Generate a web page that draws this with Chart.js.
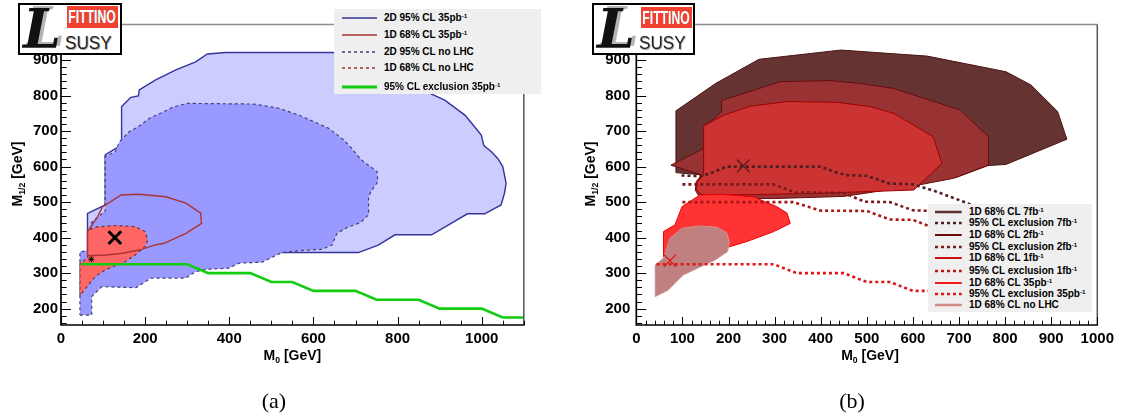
<!DOCTYPE html>
<html><head><meta charset="utf-8">
<script src="https://cdn.jsdelivr.net/npm/chart.js@4.4.1/dist/chart.umd.min.js"></script>
<style>
html,body{margin:0;padding:0;background:#fff;}
body{width:1123px;height:416px;position:relative;overflow:hidden;font-family:'Liberation Sans',Arial,sans-serif;}
canvas{position:absolute;top:0;}
.logo{position:absolute;box-sizing:border-box;border:2px solid #000;background:#fff;overflow:hidden;z-index:5;}
.fit{position:absolute;background:#f3402f;color:#fff;font-weight:bold;font-size:19px;line-height:22px;overflow:hidden;text-shadow:0 0 1px #777;}
.fit span{position:absolute;left:50%;top:0;white-space:nowrap;transform:translateX(-50%) scaleX(0.64);}
.bigL{position:absolute;font-family:'DejaVu Serif',serif;font-style:italic;font-weight:bold;font-size:54px;line-height:54px;color:#111;text-shadow:4px -2px 0 #b4b4b4;}
.susy{position:absolute;font-size:19px;line-height:19px;color:#222;transform:scaleX(0.9);transform-origin:left top;text-shadow:1px 1px 0 #aaa;}
.legend{position:absolute;background:#efefef;z-index:4;}
.row{position:absolute;left:0;right:0;height:14px;line-height:14px;font-weight:bold;white-space:nowrap;color:#000;}
.row svg{position:absolute;top:0;}
.row .t{position:absolute;top:0;}
.sp{font-size:0.62em;position:relative;top:-0.5em;}
.title{position:absolute;font-weight:bold;font-size:14px;line-height:20px;height:20px;width:100px;white-space:nowrap;text-align:center;z-index:3;}
.sb{font-size:0.62em;position:relative;top:0.35em;}
.cap{position:absolute;font-family:'Liberation Serif',serif;font-size:22px;line-height:26px;width:60px;text-align:center;}
</style>
</head><body>
<canvas id="cL" width="560" height="416" style="left:0;width:560px;height:416px"></canvas>
<canvas id="cR" width="563" height="416" style="left:560px;width:563px;height:416px"></canvas>

<div class="logo" style="left:18px;top:3px;width:104px;height:52px">
  <div class="bigL" style="left:3px;top:-3px">L</div>
  <div class="fit" style="left:46.5px;top:1px;width:51.5px;height:22.3px"><span>FITTINO</span></div>
  <div class="susy" style="left:45px;top:27.5px">SUSY</div>
</div>
<div class="logo" style="left:592px;top:3px;width:103px;height:52px">
  <div class="bigL" style="left:3px;top:-3px">L</div>
  <div class="fit" style="left:46.5px;top:1.5px;width:51px;height:21.6px"><span>FITTINO</span></div>
  <div class="susy" style="left:45px;top:27.5px">SUSY</div>
</div>

<div class="title" style="left:-33.2px;top:164px;transform:rotate(-90deg)">M<span class="sb">1/2</span> [GeV]</div>
<div class="title" style="left:540px;top:164px;transform:rotate(-90deg)">M<span class="sb">1/2</span> [GeV]</div>
<div class="title" style="left:242.4px;top:344.5px">M<span class="sb">0</span> [GeV]</div>
<div class="title" style="left:820px;top:344.5px">M<span class="sb">0</span> [GeV]</div>
<div class="cap" style="left:244px;top:388px">(a)</div>
<div class="cap" style="left:822px;top:388px">(b)</div>

<div id="legL" class="legend" style="left:334px;top:9px;width:207px;height:85px;font-size:10px"></div>
<div id="legR" class="legend" style="left:928px;top:204px;width:164px;height:108px;font-size:10px"></div>

<script>
// ---------- axis tick labels ----------
const xTickLabelsL = [0, 200, 400, 600, 800, 1000];
const xTickLabelsR = [0, 100, 200, 300, 400, 500, 600, 700, 800, 900, 1000];
const yTickLabels = [200, 300, 400, 500, 600, 700, 800, 900];

// ---------- panel (a): [M0, M1/2] in GeV ----------
const outer2D35pb = [[63,276],[63,468],[105,492],[105,633],[144,661],[144,769],[166,795],[184,799],[186,816],[225,844],[273,872],[320,895],[348,917],[391,921],[644,921],[700,915],[790,880],[881,804],[912,787],[960,745],[983,712],[999,689],[1005,659],[1023,642],[1038,623],[1050,600],[1058,553],[1054,525],[1046,492],[1007,467],[966,467],[881,408],[794,408],[754,379],[707,358],[431,358],[387,330],[184,330],[148,301],[105,301],[63,276]];
const inner2DnoLHC = [[45,182],[73,182],[73,234],[97,262],[178,259],[214,286],[296,286],[320,304],[348,311],[399,314],[423,328],[478,331],[525,358],[565,363],[620,367],[644,379],[656,412],[679,428],[711,442],[731,464],[731,515],[737,530],[753,558],[751,586],[735,600],[719,614],[707,628],[691,651],[672,675],[636,708],[600,727],[565,745],[518,764],[458,776],[300,778],[265,767],[245,755],[210,736],[186,714],[162,698],[139,670],[129,642],[105,628],[105,475],[70,440],[70,365],[45,360],[45,182]];
const red1DnoLHC = [[45,237],[45,328],[63,342],[63,421],[85,430],[128,434],[176,431],[200,417],[206,393],[200,375],[176,351],[152,332],[105,309],[81,290],[45,237]];
const line1D35pb = [[63,349],[63,417],[87,459],[99,487],[143,520],[186,522],[249,515],[297,497],[332,469],[334,440],[297,412],[245,384],[222,379],[186,365],[146,356],[107,351],[63,349]];
const excl35pbA = [[48,325],[300,325],[350,300],[450,300],[500,275],[550,275],[600,250],[700,250],[750,225],[850,225],[900,200],[1000,200],[1050,175],[1100,175]];
const bestFitA = [[128,400]];
const bestFitNoLHCA = [[72,339]];

// ---------- panel (b) ----------
const cl68_7fb = [[86,583],[86,757],[172,834],[266,902],[444,928],[631,911],[802,867],[856,830],[914,755],[934,677],[802,606],[763,603],[693,569],[615,562],[400,560],[200,570],[86,583]];
const cl68_2fb = [[75,604],[145,650],[150,714],[185,755],[185,786],[312,839],[421,842],[486,834],[558,820],[703,759],[764,684],[764,604],[688,567],[600,545],[450,516],[300,510],[160,510],[135,518],[128,534],[130,558],[142,576],[75,604]];
const cl68_1fb = [[146,714],[190,745],[247,770],[327,783],[435,781],[507,769],[558,750],[644,684],[663,609],[602,534],[400,525],[250,521],[164,520],[141,522],[131,534],[132,556],[146,576],[146,714]];
const cl68_35pb = [[59,417],[84,436],[99,487],[138,520],[182,522],[254,515],[305,487],[327,469],[334,440],[298,417],[240,389],[204,375],[170,360],[120,332],[80,330],[59,345],[59,417]];
const cl68_noLHC = [[41,234],[41,323],[59,342],[73,398],[99,426],[138,433],[175,429],[196,414],[202,389],[198,361],[171,337],[138,317],[102,295],[84,272],[70,253],[41,234]];
const excl7fb = [[98,575],[140,573],[160,581],[196,600],[400,600],[428,586],[455,576],[500,574],[550,552],[600,550],[650,530],[710,501],[770,470]];
const excl2fb = [[100,550],[298,550],[345,527],[450,526],[495,501],[550,500],[600,477],[640,475],[700,450],[760,425]];
const excl1fb = [[100,500],[340,500],[400,476],[500,475],[550,451],[600,450],[650,425],[700,400]];
const excl35pbB = [[44,325],[298,325],[348,300],[450,300],[500,275],[550,275],[600,250],[700,250]];
const bestFit7fb = [[232,602]];
const bestFit35pbB = [[73,335]];

// ---------- legends ----------
const legendA = [
  {t:'2D 95% CL 35pb', s:'-1', c:'#34349a', w:1.5, d:''},
  {t:'1D 68% CL 35pb', s:'-1', c:'#aa3333', w:1.5, d:''},
  {t:'2D 95% CL no LHC', s:'', c:'#404078', w:1.5, d:'3,3'},
  {t:'1D 68% CL no LHC', s:'', c:'#993333', w:1.5, d:'3,3'},
  {t:'95% CL exclusion 35pb', s:'-1', c:'#11cc11', w:3, d:''}
];
const legendB = [
  {t:'1D 68% CL 7fb', s:'-1', c:'#5c3030', w:2.5, d:''},
  {t:'95% CL exclusion 7fb', s:'-1', c:'#4d1f1f', w:2.5, d:'3,3'},
  {t:'1D 68% CL 2fb', s:'-1', c:'#6a0a0a', w:2, d:''},
  {t:'95% CL exclusion 2fb', s:'-1', c:'#7a1a1a', w:2.5, d:'3,3'},
  {t:'1D 68% CL 1fb', s:'-1', c:'#cc1010', w:2, d:''},
  {t:'95% CL exclusion 1fb', s:'-1', c:'#bb1515', w:2.5, d:'3,3'},
  {t:'1D 68% CL 35pb', s:'-1', c:'#ee1a1a', w:2, d:''},
  {t:'95% CL exclusion 35pb', s:'-1', c:'#e01515', w:2.5, d:'3,3'},
  {t:'1D 68% CL no LHC', s:'', c:'#d08888', w:2.5, d:''}
];

function buildLegend(id, items, rowCenters, sx0, sx1, tx) {
  const el = document.getElementById(id);
  const top0 = parseFloat(el.style.top);
  items.forEach((it, i) => {
    const row = document.createElement('div');
    row.className = 'row';
    row.style.top = (rowCenters[i] - top0 - 7) + 'px';
    const w = sx1 - sx0;
    row.innerHTML = '<svg width="' + w + '" height="14" style="left:' + sx0 + 'px"><line x1="0" y1="7" x2="' + w +
      '" y2="7" stroke="' + it.c + '" stroke-width="' + it.w + '"' + (it.d ? ' stroke-dasharray="' + it.d + '"' : '') +
      '/></svg><span class="t" style="left:' + tx + 'px">' + it.t + (it.s ? '<span class="sp">' + it.s + '</span>' : '') + '</span>';
    el.appendChild(row);
  });
}
buildLegend('legL', legendA, [18.3, 35, 51.7, 68.3, 86.7], 7.7, 43.3, 50);
buildLegend('legR', legendB, [211.7, 223.3, 235, 247.3, 258.3, 270.7, 283.3, 294.3, 305], 7, 33.7, 41);

// ---------- chart helpers ----------
Chart.defaults.font.family = "'Liberation Sans', Arial, sans-serif";
const pts = a => a.map(p => ({x: p[0], y: p[1]}));
function area(label, arr, fillColor, lineColor, width, dash, order) {
  return {label, data: pts(arr), fill: fillColor ? 'shape' : false, backgroundColor: fillColor || 'transparent',
    borderColor: lineColor, borderWidth: width, borderDash: dash || [], pointRadius: 0, pointHoverRadius: 0,
    tension: 0, order, borderJoinStyle: 'miter'};
}
function marker(label, arr, color, radius, width, style, order) {
  return {label, data: pts(arr), showLine: false, pointStyle: style, pointRadius: radius, pointHoverRadius: radius,
    pointBorderColor: color, pointBackgroundColor: color, borderColor: color, pointBorderWidth: width, order};
}

const rootFrame = {
  id: 'rootFrame',
  afterDatasetsDraw(chart, args, o) {
    const {ctx, chartArea: a} = chart;
    const xs = chart.scales.x, ys = chart.scales.y;
    ctx.save();
    ctx.lineCap = 'butt';
    ctx.strokeStyle = '#8c8c8c'; ctx.lineWidth = 1.5;
    ctx.beginPath(); ctx.moveTo(a.left, a.top); ctx.lineTo(a.right, a.top); ctx.stroke();
    ctx.strokeStyle = '#555'; ctx.lineWidth = 1.5;
    ctx.beginPath(); ctx.moveTo(a.right, a.top); ctx.lineTo(a.right, a.bottom); ctx.stroke();
    ctx.strokeStyle = '#000'; ctx.lineWidth = 1;
    for (let v = xs.min; v <= xs.max + 1e-6; v += o.xMinorStep) {
      const px = Math.round(xs.getPixelForValue(v)) + 0.5;
      const major = Math.abs(v / o.xMajorStep - Math.round(v / o.xMajorStep)) < 1e-6;
      ctx.beginPath(); ctx.moveTo(px, a.bottom); ctx.lineTo(px, a.bottom - (major ? 8 : 4.3)); ctx.stroke();
    }
    for (let v = o.yFirst; v <= ys.max + 1e-6; v += o.yMinorStep) {
      const py = Math.round(ys.getPixelForValue(v)) + 0.5;
      const major = Math.abs(v / o.yMajorStep - Math.round(v / o.yMajorStep)) < 1e-6;
      ctx.beginPath(); ctx.moveTo(a.left, py); ctx.lineTo(a.left + (major ? 10 : 5.7), py); ctx.stroke();
    }
    ctx.lineWidth = 1.7;
    ctx.beginPath(); ctx.moveTo(a.left, a.top); ctx.lineTo(a.left, a.bottom); ctx.lineTo(a.right + 0.75, a.bottom); ctx.stroke();
    ctx.restore();
  }
};

function scales(xmin, xmax, xLabels, yWidth, yPad) {
  const tickFont = {size: 15, weight: 'bold'};
  return {
    x: {type: 'linear', min: xmin, max: xmax,
        afterFit: s => { s.height = 30; },
        afterBuildTicks: s => { s.ticks = xLabels.map(v => ({value: v})); },
        grid: {display: false, drawTicks: false}, border: {display: false},
        ticks: {font: tickFont, color: '#000', padding: 5, maxRotation: 0, autoSkip: false, callback: v => String(v)}},
    y: {type: 'linear', min: 154, max: 1000,
        afterFit: s => { s.width = yWidth; },
        afterBuildTicks: s => { s.ticks = yTickLabels.map(v => ({value: v})); },
        grid: {display: false, drawTicks: false}, border: {display: false},
        ticks: {font: tickFont, color: '#000', padding: yPad, autoSkip: false, callback: v => String(v)}}
  };
}

new Chart(document.getElementById('cL'), {
  type: 'line',
  data: {datasets: [
    area('2D 95% CL 35pb-1', outer2D35pb, '#ccccff', '#34349a', 1.4, [], 10),
    area('2D 95% CL no LHC', inner2DnoLHC, '#9999ff', '#404078', 1.2, [3, 3], 9),
    area('1D 68% CL no LHC', red1DnoLHC, '#ff6666', '#6a3040', 1.2, [3, 3], 8),
    area('1D 68% CL 35pb-1', line1D35pb, null, '#aa3333', 1.4, [], 7),
    area('95% CL exclusion 35pb-1', excl35pbA, null, '#11cc11', 2.6, [], 6),
    marker('best fit no LHC', bestFitNoLHCA, '#000', 3, 1, 'star', 2),
    marker('best fit 35pb-1', bestFitA, '#000', 9, 3, 'crossRot', 1)
  ]},
  options: {
    responsive: false, animation: false, events: [],
    layout: {padding: {left: 0, top: 24.5, right: 36.2, bottom: 61}},
    scales: scales(0, 1100, xTickLabelsL, 61, 3),
    plugins: {legend: {display: false}, tooltip: {enabled: false},
      rootFrame: {xMajorStep: 200, xMinorStep: 50, yMajorStep: 100, yMinorStep: 20, yFirst: 160}}
  },
  plugins: [rootFrame]
});

new Chart(document.getElementById('cR'), {
  type: 'line',
  data: {datasets: [
    area('1D 68% CL 7fb-1', cl68_7fb, '#663333', '#4a1515', 1, [], 20),
    area('1D 68% CL 2fb-1', cl68_2fb, '#993333', '#6a0a0a', 1, [], 19),
    area('1D 68% CL 1fb-1', cl68_1fb, '#cc3333', '#a00000', 1, [], 18),
    area('1D 68% CL 35pb-1', cl68_35pb, '#ff3333', '#ee0000', 1, [], 17),
    area('1D 68% CL no LHC', cl68_noLHC, '#c08080', '#d09090', 1, [], 16),
    area('95% CL exclusion 7fb-1', excl7fb, null, '#4d1f1f', 2.6, [3, 3], 13),
    area('95% CL exclusion 2fb-1', excl2fb, null, '#7a1a1a', 2.6, [3, 3], 12),
    area('95% CL exclusion 1fb-1', excl1fb, null, '#aa1515', 2.6, [3, 3], 11),
    area('95% CL exclusion 35pb-1', excl35pbB, null, '#e01515', 2.6, [3, 3], 10),
    marker('best fit 7fb-1', bestFit7fb, '#4d1f1f', 9, 1.2, 'crossRot', 2),
    marker('best fit 35pb-1', bestFit35pbB, '#e01515', 8.5, 1.2, 'crossRot', 1)
  ]},
  options: {
    responsive: false, animation: false, events: [],
    layout: {padding: {left: 0, top: 24.5, right: 25.7, bottom: 61}},
    scales: scales(0, 1000, xTickLabelsR, 76.3, 6),
    plugins: {legend: {display: false}, tooltip: {enabled: false},
      rootFrame: {xMajorStep: 100, xMinorStep: 20, yMajorStep: 100, yMinorStep: 20, yFirst: 160}}
  },
  plugins: [rootFrame]
});
</script>
</body></html>
